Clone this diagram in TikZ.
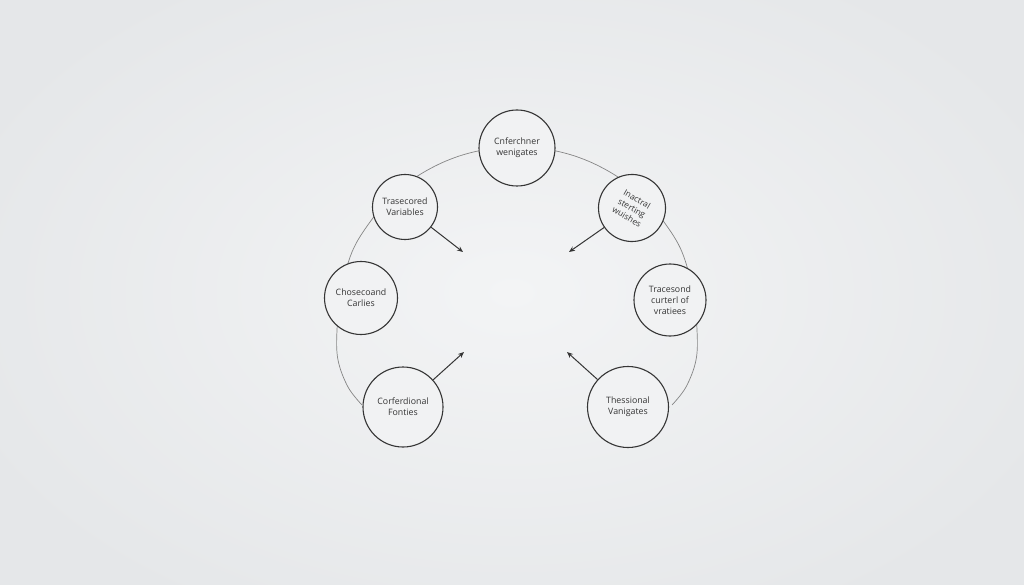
\documentclass[tikz,border=0pt]{standalone}
\usepackage{fontspec}
\setmainfont{Open Sans}
\usetikzlibrary{arrows.meta}
\definecolor{bgin}{HTML}{F3F4F5}
\definecolor{bgout}{HTML}{E5E7E9}
\definecolor{bubblefill}{HTML}{F1F2F3}
\definecolor{ink}{HTML}{353535}
\definecolor{ringcol}{HTML}{858585}
\tikzset{
  bubble/.style={circle, draw=ink, line width=1.1pt, fill=bubblefill, inner sep=0pt,
    align=center, text=ink, font=\fontsize{8.8}{11}\selectfont},
  ring/.style={draw=ringcol, line width=0.7pt},
  pointer/.style={draw=ink, line width=1pt, -{Stealth[length=6pt,width=5pt]}}
}
\begin{document}
\begin{tikzpicture}[x=1pt,y=-1pt]
\useasboundingbox (0,0) rectangle (1024,585);
\shade[inner color=bgin, outer color=bgout] (-80,-80) rectangle (1104,665);
\path[ring] plot[smooth, tension=0.6] coordinates {(362,405) (348,387) (338,360) (337,330) (341,292) (352,252) (370,222) (392,196) (416,177) (446,161) (478,151) (517,146) (556,151) (588,161) (618,177) (642,196) (664,222) (682,252) (693,292) (697,330) (696,360) (686,387) (672,405)};
\node[bubble, minimum size=76pt] (top) at (517,148) {Cnferchner\\wenigates};
\node[bubble, minimum size=65pt] (ul) at (405,207) {Trasecored\\Variables};
\node[bubble, minimum size=67pt, rotate=-30, font=\fontsize{8.4}{10.2}\selectfont] (ur) at (632,208) {Inactral\\sterting\\wuishes};
\node[bubble, minimum size=73pt] (ml) at (361,298) {Chosecoand\\Carlies};
\node[bubble, minimum size=72pt] (mr) at (670,300) {Tracesond\\curterl of\\vratiees};
\node[bubble, minimum size=80pt] (bl) at (403,407) {Corferdional\\Fonties};
\node[bubble, minimum size=81pt] (br) at (628,407) {Thessional\\Vanigates};
\coordinate (a1) at (463,252);
\coordinate (a2) at (569,252);
\coordinate (a3) at (464,352);
\coordinate (a4) at (567,352);
\draw[pointer] (ul) -- (a1);
\draw[pointer] (ur) -- (a2);
\draw[pointer] (bl) -- (a3);
\draw[pointer] (br) -- (a4);
\end{tikzpicture}
\end{document}
